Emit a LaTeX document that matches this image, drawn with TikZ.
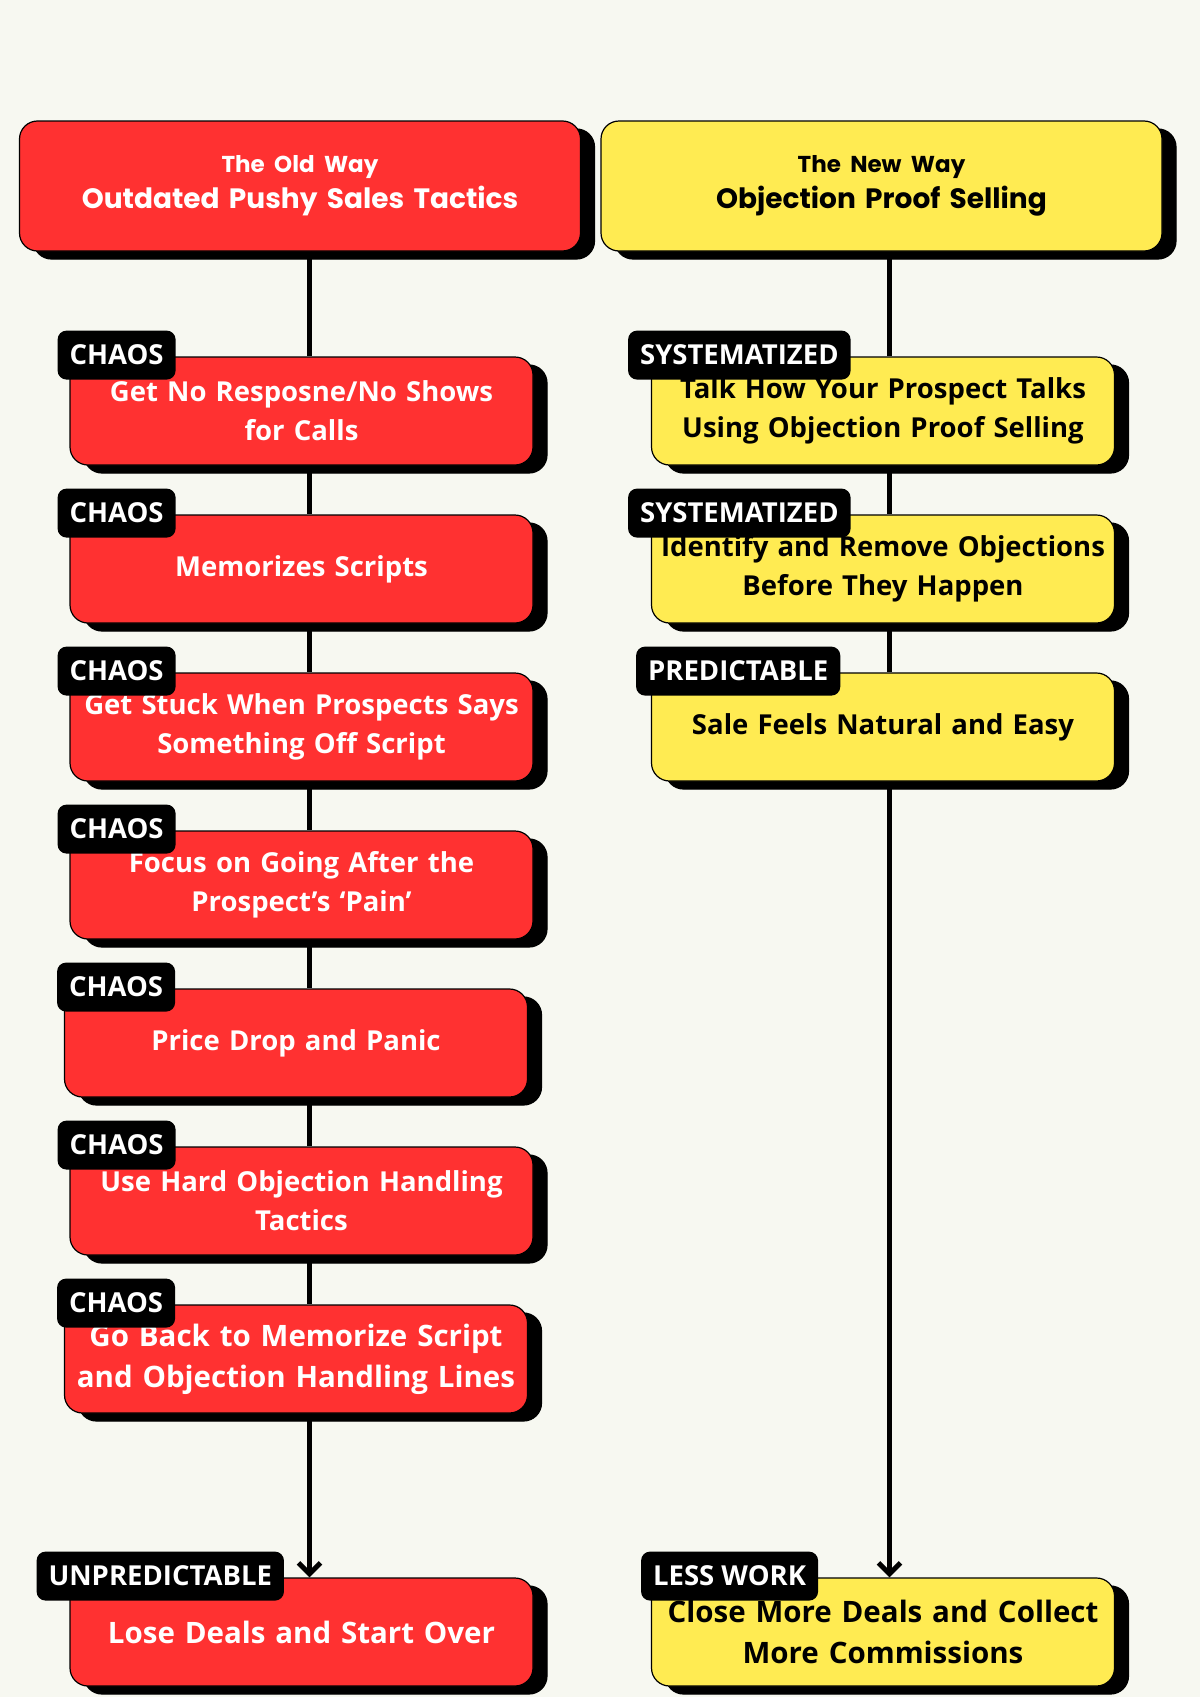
\documentclass[tikz,border=0pt]{standalone}
\usepackage{fontspec}
\setmainfont{Open Sans}
\newfontfamily\headfont{Poppins}
\usetikzlibrary{shadows,arrows.meta}
\definecolor{bgc}{HTML}{F7F8F1}
\definecolor{oldred}{HTML}{FF3131}
\definecolor{newyellow}{HTML}{FFEB52}
\newcommand\bodytext{\fontsize{27.5}{39}\selectfont\bfseries}
\newcommand\bigtext{\fontsize{29.5}{41}\selectfont\bfseries}
\newcommand\tagtext{\fontsize{27.5}{30}\selectfont\bfseries}
\newcommand\headtext{\headfont\fontsize{28}{36}\selectfont\bfseries}
\begin{document}
\begin{tikzpicture}[x=1pt, y=-1pt, line join=round, >={Straight Barb[length=11pt,width=22pt]},
	box/.style={rounded corners=18pt, draw=black, line width=1.2pt, minimum height=108pt, inner xsep=4pt, text width=455pt, align=center, font=\bodytext, copy shadow={shadow xshift=14pt, shadow yshift=-8pt, fill=black, draw=black}},
	oldbox/.style={box, fill=oldred, text=white},
	newbox/.style={box, fill=newyellow, text=black},
	headbox/.style={minimum height=130pt, text width=553pt, font=\headtext},
	tag/.style={fill=black, text=white, rounded corners=9pt, minimum height=49pt, inner xsep=12pt, font=\tagtext, anchor=north west},
	spine/.style={line width=5pt}]
			\def \W{1200}
			\def \H{1697}
			\useasboundingbox (0,0) rectangle (\W,\H);
			\fill[bgc] (0,0) rectangle (\W,\H);
			\coordinate (sl) at (309.5,0);
			\coordinate (sr) at (889.5,0);
			\node[oldbox, headbox] (oldhead) at (300,186) {{\fontsize{23}{30}\selectfont The Old Way}\\Outdated Pushy Sales Tactics};
			\node[newbox, headbox] (newhead) at (881.5,186) {{\fontsize{23}{30}\selectfont The New Way}\\Objection Proof Selling};
			\node[oldbox] (o1) at (301.5,411) {Get No Resposne/No Shows\\for Calls};
			\node[oldbox] (o2) at (301.5,569) {Memorizes Scripts};
			\node[oldbox] (o3) at (301.5,727) {Get Stuck When Prospects Says\\Something Off Script};
			\node[oldbox] (o4) at (301.5,885) {Focus on Going After the\\Prospect’s ‘Pain’};
			\node[oldbox] (o5) at (296,1043) {Price Drop and Panic};
			\node[oldbox] (o6) at (301.5,1201) {Use Hard Objection Handling\\Tactics};
			\node[oldbox, font=\bigtext] (o7) at (296,1359) {Go Back to Memorize Script\\and Objection Handling Lines};
			\node[oldbox, font=\bigtext] (oend) at (301.5,1632) {Lose Deals and Start Over};
			\node[newbox] (n1) at (883,411) {Talk How Your Prospect Talks\\Using Objection Proof Selling};
			\node[newbox] (n2) at (883,569) {Identify and Remove Objections\\Before They Happen};
			\node[newbox] (n3) at (883,727) {Sale Feels Natural and Easy};
			\node[newbox, font=\bigtext] (nend) at (883,1632) {Close More Deals and Collect\\More Commissions};
			\foreach \n in {o1,o2,o3,o4,o6}
			\node[tag] (t\n) at ([shift={(-12,-26)}]\n.north west) {CHAOS};
			\foreach \n in {o5,o7}
			\node[tag] (t\n) at ([shift={(-7,-26)}]\n.north west) {CHAOS};
			\node[tag] (toend) at ([shift={(-33,-26)}]oend.north west) {UNPREDICTABLE};
			\node[tag] (tn1) at ([shift={(-23,-26)}]n1.north west) {SYSTEMATIZED};
			\node[tag] (tn2) at ([shift={(-23,-26)}]n2.north west) {SYSTEMATIZED};
			\node[tag] (tn3) at ([shift={(-15,-26)}]n3.north west) {PREDICTABLE};
			\node[tag] (tnend) at ([shift={(-10,-26)}]nend.north west) {LESS WORK};
			\draw[spine] (oldhead.south -| sl) -- (o1.north -| sl);
			\foreach \a/\b in {o1/o2,o2/o3,o3/o4,o4/o5,o5/o6,o6/o7}
			\draw[spine] (\a.south -| sl) -- (\b.north -| sl);
			\draw[spine,->] (o7.south -| sl) -- (oend.north -| sl);
			\draw[spine] (newhead.south -| sr) -- (n1.north -| sr);
			\foreach \a/\b in {n1/n2,n2/n3}
			\draw[spine] (\a.south -| sr) -- (\b.north -| sr);
			\draw[spine,->] (n3.south -| sr) -- (nend.north -| sr);
\end{tikzpicture}
\end{document}
